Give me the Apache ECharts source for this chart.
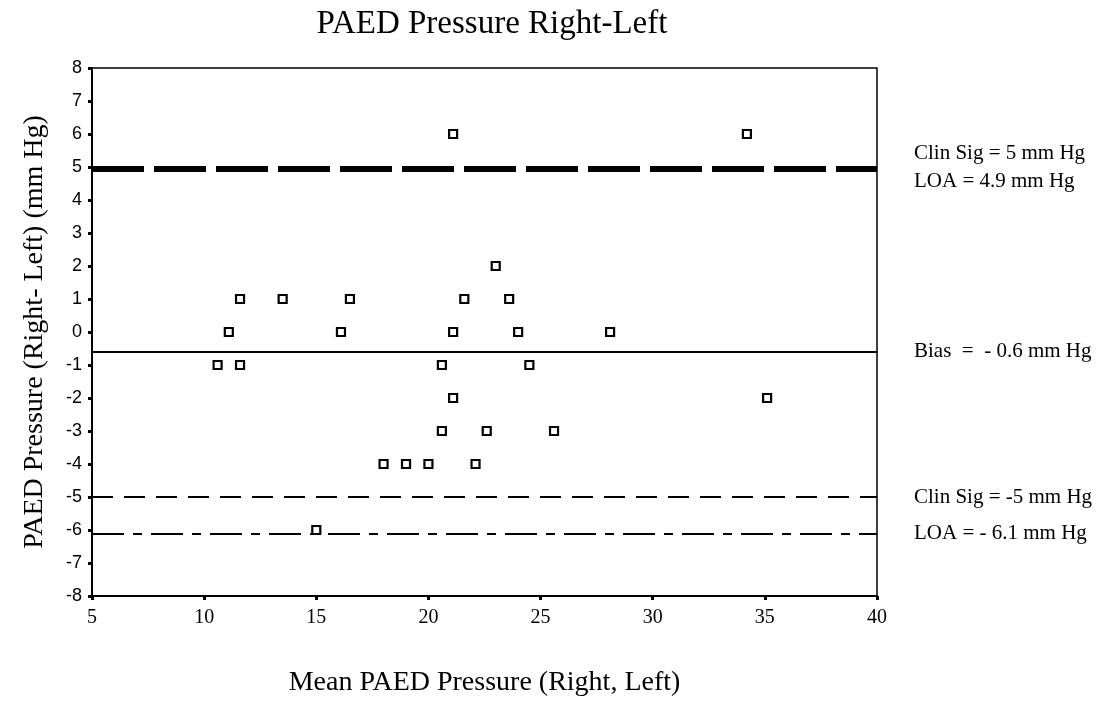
<!DOCTYPE html>
<html>
<head>
<meta charset="utf-8">
<script src="https://cdn.jsdelivr.net/npm/echarts@6/dist/echarts.min.js"></script>
<style>
html,body{margin:0;padding:0;background:#fff;}
#chart{width:1108px;height:702px;}
</style>
</head>
<body>
<div id="chart"></div>
<script>
// Data (x = mean, y = difference)
var meanValues = [21.1, 34.2, 23.0, 11.6, 13.5, 16.5, 21.6, 23.6, 11.1, 16.1, 21.1, 24.0, 28.1, 10.6, 11.6, 20.6, 24.5, 21.1, 35.1, 20.6, 22.6, 25.6, 18.0, 19.0, 20.0, 22.1, 15.0];
var diffValues = [6, 6, 2, 1, 1, 1, 1, 1, 0, 0, 0, 0, 0, -1, -1, -1, -1, -2, -2, -3, -3, -3, -4, -4, -4, -4, -6];
var refValues = [5, 4.9, -0.6, -5, -6.1];
var refLabels = ['Clin Sig = 5 mm Hg\nLOA = 4.9 mm Hg', '', 'Bias  =  - 0.6 mm Hg', 'Clin Sig = -5 mm Hg', 'LOA = - 6.1 mm Hg'];
var xTicks = [5, 10, 15, 20, 25, 30, 35, 40];
var yTicks = [-8, -7, -6, -5, -4, -3, -2, -1, 0, 1, 2, 3, 4, 5, 6, 7, 8];

var points = meanValues.map(function (m, i) { return [m, diffValues[i]]; });

var refStyles = [
  { type: [52, 10], width: 2.8 },
  { type: [52, 10], width: 2.8 },
  { type: 'solid', width: 2 },
  { type: [21, 11], width: 2 },
  { type: [32, 9, 9, 9], width: 2 }
];
var refShift = [0, 0, 18, 12, 30];

var markData = refValues.map(function (v, i) {
  return {
    yAxis: v,
    lineStyle: { color: '#000', type: refStyles[i].type, width: refStyles[i].width },
    label: {
      show: refLabels[i] !== '',
      formatter: refLabels[i],
      position: 'end',
      distance: 37,
      color: '#000',
      fontFamily: 'Liberation Serif',
      fontSize: 21,
      lineHeight: 28,
      padding: [0, 0, refShift[i], 0]
    }
  };
});

var chart = echarts.init(document.getElementById('chart'), null, { renderer: 'canvas' });
chart.setOption({
  backgroundColor: '#fff',
  animation: false,
  title: {
    text: 'PAED Pressure Right-Left',
    left: 487,
    top: 3,
    textAlign: 'center',
    textStyle: { fontFamily: 'Liberation Serif', fontSize: 33, fontWeight: 'normal', color: '#000' }
  },
  grid: { left: 92, right: 231, top: 68, bottom: 104, show: true, borderColor: '#000', borderWidth: 1.5, backgroundColor: 'transparent' },
  xAxis: {
    type: 'value',
    min: xTicks[0],
    max: xTicks[xTicks.length - 1],
    interval: 5,
    name: 'Mean PAED Pressure (Right, Left)',
    nameLocation: 'middle',
    nameGap: 73,
    nameTextStyle: { fontFamily: 'Liberation Serif', fontSize: 28, color: '#000' },
    axisLine: { show: true, onZero: false, lineStyle: { color: '#000', width: 2 } },
    axisTick: { show: true, inside: false, length: 4, lineStyle: { color: '#000', width: 3 } },
    axisLabel: { color: '#000', fontFamily: 'Liberation Serif', fontSize: 20, margin: 12 },
    splitLine: { show: false }
  },
  yAxis: {
    type: 'value',
    min: yTicks[0],
    max: yTicks[yTicks.length - 1],
    interval: 1,
    name: 'PAED Pressure (Right- Left) (mm Hg)',
    nameLocation: 'middle',
    nameGap: 43,
    nameRotate: 90,
    nameTextStyle: { fontFamily: 'Liberation Serif', fontSize: 28, color: '#000' },
    axisLine: { show: true, onZero: false, lineStyle: { color: '#000', width: 2 } },
    axisTick: { show: true, inside: false, length: 4, lineStyle: { color: '#000', width: 3 } },
    axisLabel: { color: '#000', fontFamily: 'Liberation Sans', fontSize: 18, margin: 10 },
    splitLine: { show: false }
  },
  series: [{
    type: 'scatter',
    data: points,
    symbol: 'rect',
    symbolSize: 8,
    itemStyle: { color: '#fff', borderColor: '#000', borderWidth: 2.2, opacity: 1 },
    z: 5,
    markLine: {
      silent: true,
      symbol: ['none', 'none'],
      animation: false,
      data: markData
    }
  }]
});
</script>
</body>
</html>
